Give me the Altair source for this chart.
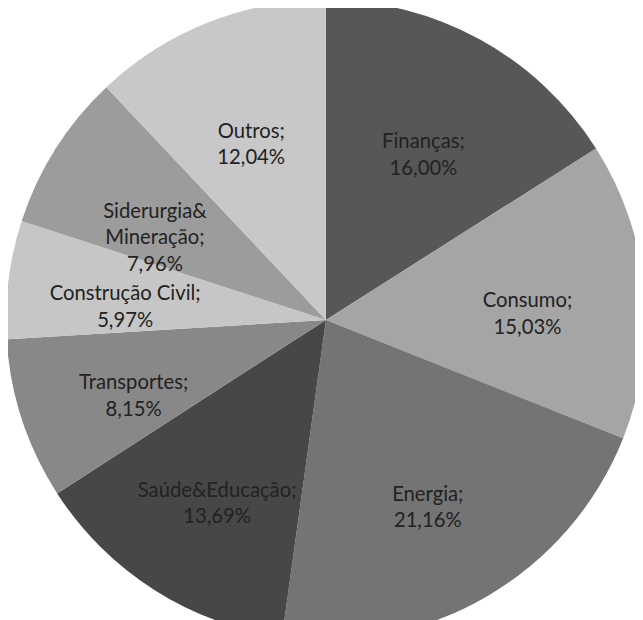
import altair as alt
import pandas as pd

categories = ["Finanças", "Consumo", "Energia", "Saúde&Educação", "Transportes",
              "Construção Civil", "Siderurgia&\nMineração", "Outros"]
values = [16.00, 15.03, 21.16, 13.69, 8.15, 5.97, 7.96, 12.04]
colors = ["#575757", "#a5a5a5", "#747474", "#474747", "#888888",
          "#c6c6c6", "#9c9c9c", "#c8c8c8"]

labels = [f"{c};\n" + f"{v:.2f}".replace(".", ",") + "%" for c, v in zip(categories, values)]
df = pd.DataFrame({"cat": categories, "val": values, "order": list(range(len(values))), "label": labels})

W, H = 635, 612
CX, CY = 322, 312
R = 324

base = alt.Chart(df).encode(
    theta=alt.Theta("val:Q", stack=True),
    order=alt.Order("order:Q"),
)

pie = base.mark_arc(outerRadius=R, x=CX, y=CY, strokeWidth=0).encode(
    color=alt.Color("cat:N", scale=alt.Scale(domain=categories, range=colors), legend=None, sort=None),
)

text = base.mark_text(radius=205, x=CX, y=CY, font="Lato", fontSize=20.5, lineHeight=27,
                      lineBreak="\n", color="#222222", align="center", baseline="middle").encode(
    text="label:N",
)

chart = alt.layer(pie, text).properties(
    width=W, height=H, padding=0, autosize=alt.AutoSizeParams(type="none"), background="white"
).configure_view(stroke=None)

chart.save("out.html", embed_options={"renderer": "svg", "actions": False})
